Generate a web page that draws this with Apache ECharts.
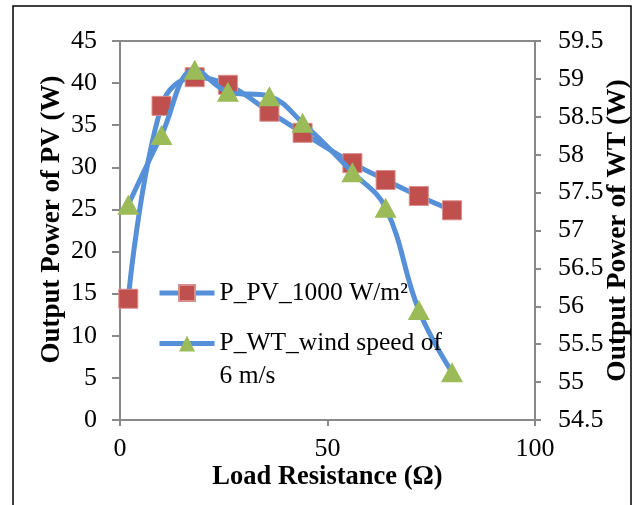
<!DOCTYPE html>
<html>
<head>
<meta charset="utf-8">
<script src="https://cdn.jsdelivr.net/npm/echarts@6/dist/echarts.min.js"></script>
<style>
html,body{margin:0;padding:0;background:#fff;}
#chart{width:637px;height:505px;}
</style>
</head>
<body>
<div id="chart"></div>
<script>
// Data
var loadResistance = [2, 10, 18, 26, 36, 44, 56, 64, 72, 80];
var pvPower = [14.4, 37.3, 40.7, 39.8, 36.6, 34.1, 30.5, 28.5, 26.6, 24.9];
var wtPower = [57.34, 58.26, 59.12, 58.83, 58.77, 58.42, 57.77, 57.30, 55.95, 55.13];
var pvName = 'P_PV_1000 W/m²';
var wtName = 'P_WT_wind speed of\n6 m/s';

function pairs(xs, ys) { return xs.map(function (x, i) { return [x, ys[i]]; }); }

var FONT = '"Liberation Serif", "Times New Roman", serif';
var AXIS_COLOR = '#898989';
var LINE_COLOR = '#5590d8';

var chart = echarts.init(document.getElementById('chart'), null, {renderer: 'canvas'});
chart.setOption({
  backgroundColor: '#ffffff',
  animation: false,
  textStyle: {fontFamily: FONT, color: '#000'},
  grid: {left: 120, right: 102, top: 41, bottom: 85, outerBoundsMode: 'none', containLabel: false,
    show: true, borderColor: AXIS_COLOR, borderWidth: 2, backgroundColor: 'transparent'},
  graphic: [{
    type: 'rect', shape: {x: 13, y: 6, width: 618, height: 520},
    style: {fill: 'none', stroke: '#000', lineWidth: 1.5}, silent: true, z: 100
  }],
  legend: [{
    data: [{name: pvName}], left: 157, top: 279, padding: 0, itemWidth: 55, itemHeight: 20, itemGap: 4,
    lineStyle: {width: 5, color: LINE_COLOR, type: 'solid'},
    textStyle: {fontFamily: FONT, fontSize: 25.5, color: '#000', lineHeight: 28}
  }, {
    data: [{name: wtName}], left: 157, top: 294, padding: 0, itemWidth: 55, itemHeight: 20, itemGap: 4,
    lineStyle: {width: 5, color: LINE_COLOR, type: 'solid'},
    formatter: function (name) { return '\n' + name; },
    textStyle: {fontFamily: FONT, fontSize: 25.5, color: '#000', lineHeight: 33}
  }],
  xAxis: {
    type: 'value', min: 0, max: 100, interval: 50,
    name: 'Load Resistance (Ω)', nameLocation: 'middle', nameGap: 44, nameMoveOverlap: false,
    nameTextStyle: {fontFamily: FONT, fontSize: 26.5, fontWeight: 'bold', color: '#000'},
    axisLine: {onZero: false, lineStyle: {color: AXIS_COLOR, width: 2}},
    axisTick: {show: true, length: 6, lineStyle: {color: AXIS_COLOR, width: 2}},
    axisLabel: {fontFamily: FONT, fontSize: 26, color: '#000', margin: 16},
    splitLine: {show: false}
  },
  yAxis: [{
    type: 'value', min: 0, max: 45, interval: 5, position: 'left',
    name: 'Output Power of PV (W)', nameLocation: 'middle', nameGap: 54, nameMoveOverlap: false,
    nameTextStyle: {fontFamily: FONT, fontSize: 27, fontWeight: 'bold', color: '#000', padding: [0, 0, 0, 22]},
    axisLine: {show: true, onZero: false, lineStyle: {color: AXIS_COLOR, width: 2}},
    axisTick: {show: true, length: 8, lineStyle: {color: AXIS_COLOR, width: 2}},
    axisLabel: {fontFamily: FONT, fontSize: 26, color: '#000', margin: 23},
    splitLine: {show: false}
  }, {
    type: 'value', min: 54.5, max: 59.5, interval: 0.5, position: 'right',
    name: 'Output Power of WT (W)', nameLocation: 'middle', nameGap: 69, nameMoveOverlap: false,
    nameTextStyle: {fontFamily: FONT, fontSize: 27.5, fontWeight: 'bold', color: '#000'},
    axisLine: {show: true, onZero: false, lineStyle: {color: AXIS_COLOR, width: 2}},
    axisTick: {show: true, length: 6, lineStyle: {color: AXIS_COLOR, width: 2}},
    axisLabel: {fontFamily: FONT, fontSize: 26, color: '#000', margin: 23},
    splitLine: {show: false}
  }],
  series: [{
    name: pvName, type: 'line', yAxisIndex: 0, smooth: 0.4,
    data: pairs(loadResistance, pvPower),
    symbol: 'rect', symbolSize: 19,
    lineStyle: {color: LINE_COLOR, width: 5},
    itemStyle: {color: '#c0504d', borderColor: '#d88e8c', borderWidth: 1},
    z: 2
  }, {
    name: wtName, type: 'line', yAxisIndex: 1, smooth: 0.4,
    data: pairs(loadResistance, wtPower),
    symbol: 'triangle', symbolSize: [22, 20],
    lineStyle: {color: LINE_COLOR, width: 5},
    itemStyle: {color: '#9bbb59', borderColor: '#9bbb59', borderWidth: 0},
    z: 3
  }]
});
</script>
</body>
</html>
